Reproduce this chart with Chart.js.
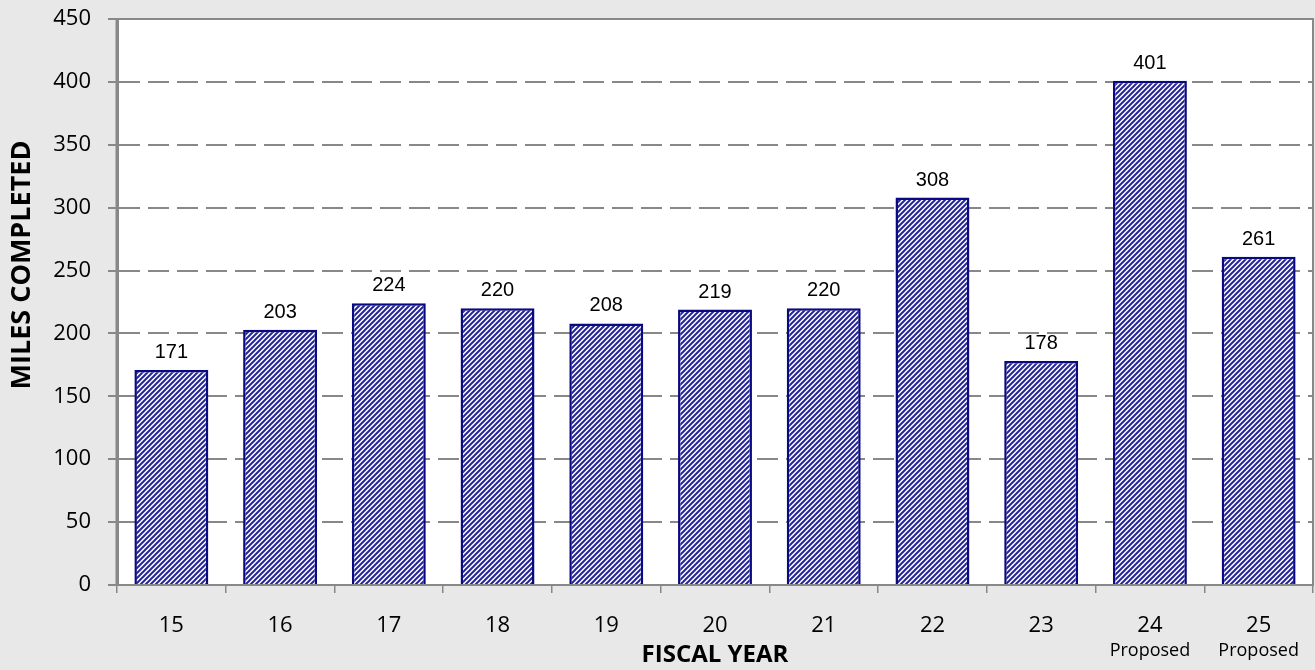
<!DOCTYPE html>
<html>
<head>
<meta charset="utf-8">
<script src="https://cdn.jsdelivr.net/npm/chart.js@4/dist/chart.umd.min.js"></script>
<style>
html,body{margin:0;padding:0;background:#e8e8e8;}
#wrap{width:1315px;height:670px;position:relative;}
</style>
</head>
<body>
<div id="wrap"><canvas id="c"></canvas></div>
<script>
const fiscalYears = ["15","16","17","18","19","20","21","22","23","24","25"];
const subLabels = ["","","","","","","","","","Proposed","Proposed"];
const milesCompleted = [171,203,224,220,208,219,220,308,178,401,261];
const yTicks = [0,50,100,150,200,250,300,350,400,450];

function makePattern(){
  const s = 5;
  const t = document.createElement('canvas');
  t.width = s; t.height = s;
  const g = t.getContext('2d');
  g.fillStyle = '#ffffff';
  g.fillRect(0,0,s,s);
  g.strokeStyle = '#26269c';
  g.lineWidth = 2.0;
  g.beginPath();
  g.moveTo(-s, s*2); g.lineTo(s*2, -s);
  g.moveTo(-s*2, s*2); g.lineTo(s, -s);
  g.moveTo(0, s*2); g.lineTo(s*3, -s);
  g.stroke();
  return g.createPattern(t,'repeat');
}

const extras = {
  id:'extras',
  beforeDraw(chart){
    const {ctx, chartArea:a} = chart;
    ctx.save();
    ctx.fillStyle = '#ffffff';
    ctx.fillRect(a.left, a.top, a.right-a.left, a.bottom-a.top);
    ctx.restore();
  },
  beforeDatasetsDraw(chart){
    const {ctx, chartArea:a} = chart;
    ctx.save();
    ctx.strokeStyle = '#888888';
    ctx.lineWidth = 2;
    ctx.strokeRect(a.left, a.top, a.right-a.left, a.bottom-a.top);
    ctx.beginPath();
    ctx.lineWidth = 3;
    ctx.moveTo(a.left, a.top); ctx.lineTo(a.left, a.bottom);
    ctx.stroke();
    ctx.restore();
  },
  afterDatasetsDraw(chart){
    const {ctx, chartArea:a} = chart;
    const meta = chart.getDatasetMeta(0);
    ctx.save();
    ctx.fillStyle = '#000';
    ctx.font = '20px "Liberation Sans", Arial, sans-serif';
    ctx.textAlign = 'center';
    ctx.textBaseline = 'alphabetic';
    meta.data.forEach((bar,i)=>{
      ctx.fillText(String(milesCompleted[i]), bar.x, bar.y - 12);
    });
    // sub labels
    ctx.font = '18px "Open Sans", sans-serif';
    ctx.textBaseline = 'middle';
    const xs = chart.scales.x;
    subLabels.forEach((s,i)=>{
      if(s) ctx.fillText(s, xs.getPixelForValue(i), 651);
    });
    // axis titles
    ctx.font = 'bold 24px "Open Sans", sans-serif';
    ctx.fillText('FISCAL YEAR', (a.left+a.right)/2, 655);
    ctx.translate(22, 265);
    ctx.rotate(-Math.PI/2);
    ctx.font = 'bold 27px "Open Sans", sans-serif';
    ctx.fillText('MILES COMPLETED', 0, 0);
    ctx.restore();
  }
};

new Chart(document.getElementById('c'), {
  type:'bar',
  data:{
    labels: fiscalYears,
    datasets:[{
      data: milesCompleted,
      backgroundColor: makePattern(),
      borderColor:'#0a0a80',
      borderWidth:2.5,
      categoryPercentage:0.68,
      barPercentage:1.0
    }]
  },
  options:{
    responsive:true,
    maintainAspectRatio:false,
    devicePixelRatio:1,
    animation:false,
    layout:{padding:{top:19,right:2,left:0,bottom:0}},
    plugins:{legend:{display:false},tooltip:{enabled:false}},
    scales:{
      x:{
        afterFit(s){ s.height = 670 - 585; s.paddingLeft = 0; s.paddingRight = 0; },
        grid:{display:true, drawOnChartArea:false, drawTicks:true, offset:true, color:'#888888', lineWidth:1.5, tickLength:8},
        border:{display:true, color:'#888888', width:2},
        ticks:{color:'#000', font:{family:'"Open Sans", sans-serif', size:22}, padding:20, maxRotation:0}
      },
      y:{
        min:0, max:450,
        afterFit(s){ s.width = 117; s.paddingTop = 0; s.paddingBottom = 0; },
        afterBuildTicks(s){ s.ticks = yTicks.map(v=>({value:v})); },
        grid:{color:'#888888', lineWidth:2, tickBorderDash:[], tickColor:'#888888', tickLength:9, drawTicks:true},
        border:{display:true, color:'#888888', width:3, dash:[21,8]},
        ticks:{color:'#000', font:{family:'"Open Sans", sans-serif', size:22}, padding:17}
      }
    }
  },
  plugins:[extras]
});
</script>
</body>
</html>
